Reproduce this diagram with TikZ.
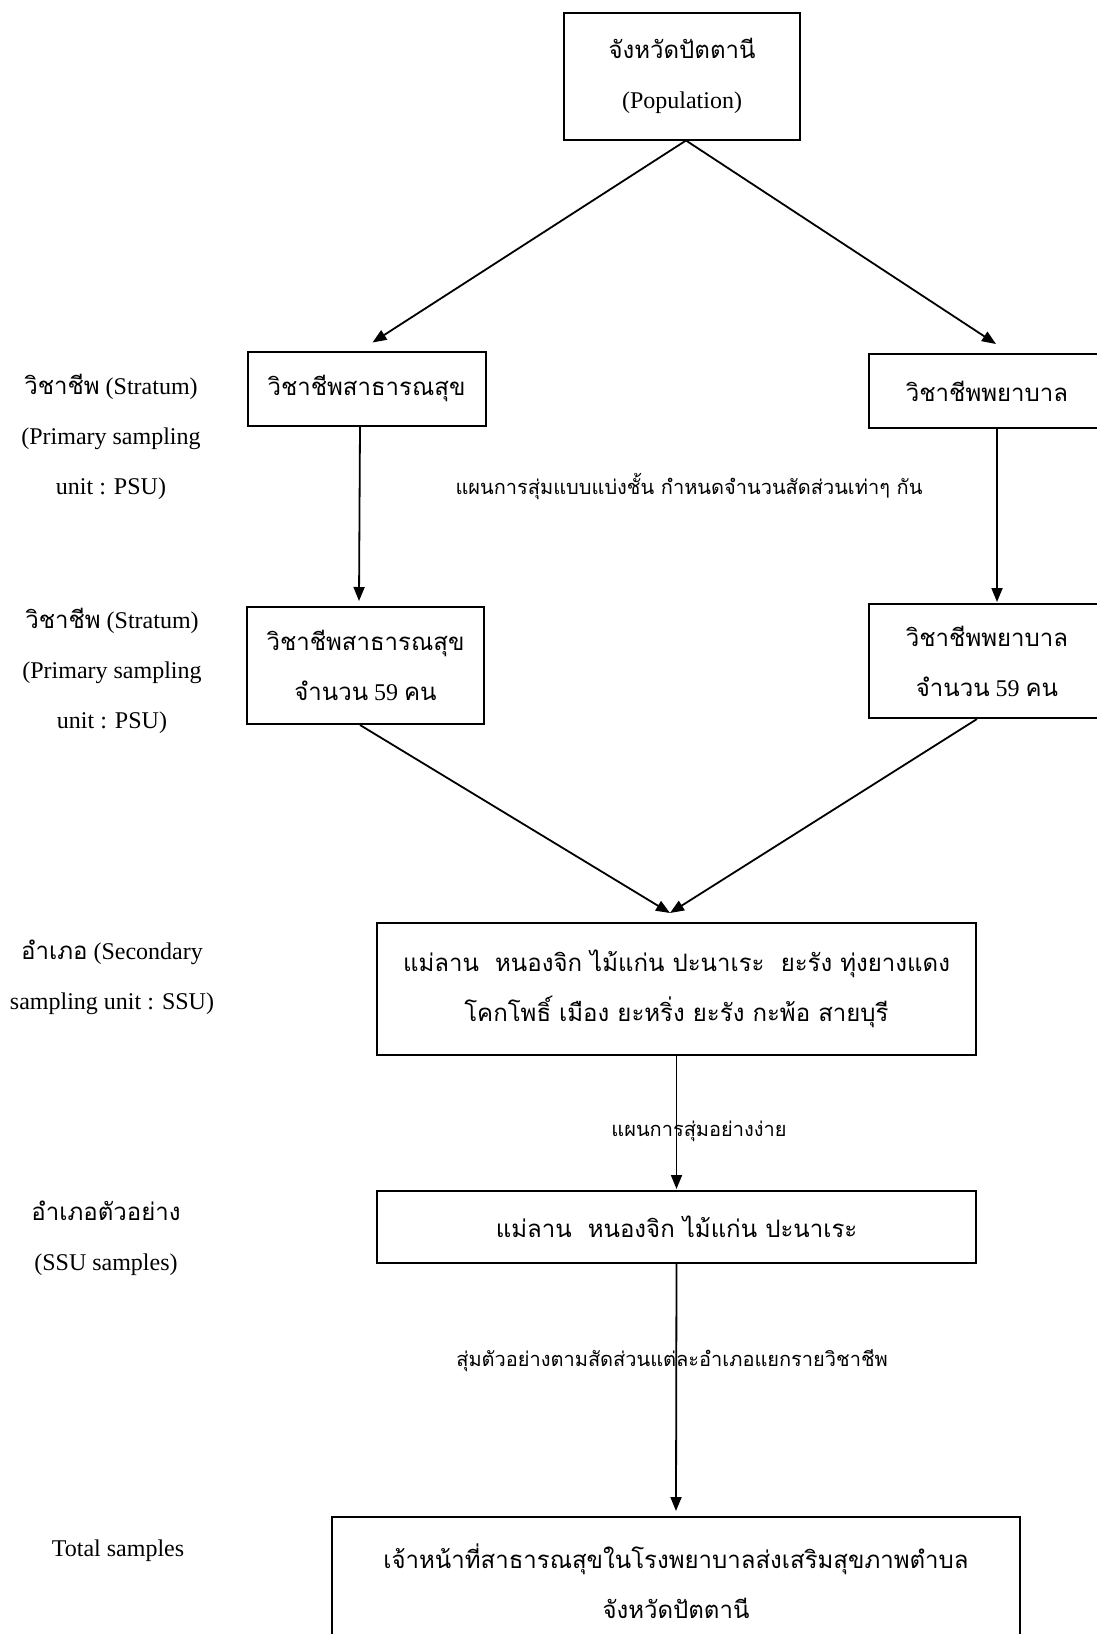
\documentclass[tikz,border=0pt]{standalone}
\usepackage{fontspec}
\setmainfont{Liberation Serif}
\newfontfamily\thai[Script=Thai]{Loma}
\usetikzlibrary{arrows.meta}
\tikzset{
  box/.style={draw, line width=2pt, inner sep=0pt, align=center,
    font=\fontsize{24}{50}\selectfont},
  lbl/.style={inner sep=0pt, align=center, font=\fontsize{24}{50}\selectfont},
  mid/.style={inner sep=0pt, align=center, font=\fontsize{20}{40}\selectfont},
  arr/.style={line width=1.8pt, -{Triangle[length=14pt,width=11pt]}}
}
\begin{document}
\begin{tikzpicture}[x=1pt,y=-1pt]
\useasboundingbox (0,0) rectangle (1096,1634);
\fill[white] (0,0) rectangle (1096,1634);

% boxes
\node[box, minimum width=236pt, minimum height=127pt] (pop) at (682,76)
  {{\thai จังหวัดปัตตานี}\\(Population)};
\node[box, minimum width=238pt, minimum height=74pt] (ph1) at (366.5,388.5)
  {\thai วิชาชีพสาธารณสุข};
\node[box, minimum width=236pt, minimum height=74pt] (nu1) at (987,391)
  {\thai วิชาชีพพยาบาล};
\node[box, minimum width=237pt, minimum height=117pt] (ph2) at (365.5,665.5)
  {{\thai วิชาชีพสาธารณสุข}\\{\thai จำนวน} 59 {\thai คน}};
\node[box, minimum width=236pt, minimum height=114pt] (nu2) at (987,661)
  {{\thai วิชาชีพพยาบาล}\\{\thai จำนวน} 59 {\thai คน}};
\node[box, minimum width=599pt, minimum height=132pt] (ssu) at (676.5,989)
  {{\thai แม่ลาน\ \ หนองจิก ไม้แก่น ปะนาเระ\ \ ยะรัง ทุ่งยางแดง}\\{\thai โคกโพธิ์ เมือง ยะหริ่ง ยะรัง กะพ้อ สายบุรี}};
\node[box, minimum width=599pt, minimum height=72pt] (sam) at (676.5,1227)
  {\thai แม่ลาน\ \ หนองจิก ไม้แก่น ปะนาเระ};
\node[box, minimum width=688pt, minimum height=128pt] (tot) at (676,1581)
  {{\thai เจ้าหน้าที่สาธารณสุขในโรงพยาบาลส่งเสริมสุขภาพตำบล}\\{\thai จังหวัดปัตตานี}};

% connectors
\draw[arr] ([xshift=4pt]pop.south) -- ([xshift=6pt,yshift=8pt]ph1.north);
\draw[arr] ([xshift=4pt]pop.south) -- ([xshift=9pt,yshift=9pt]nu1.north);
\draw[arr] ([xshift=-6.5pt]ph1.south) -- ([xshift=-6.5pt,yshift=5pt]ph2.north);
\draw[arr] ([xshift=10pt]nu1.south) -- ([xshift=10pt,yshift=1pt]nu2.north);
\draw[arr] ([xshift=-5.5pt]ph2.south) -- ([xshift=-6.5pt,yshift=9pt]ssu.north);
\draw[arr] ([xshift=-10pt]nu2.south) -- ([xshift=-6.5pt,yshift=9pt]ssu.north);
\draw[arr] (ssu.south) -- ([yshift=1pt]sam.north);
\draw[arr] (sam.south) -- ([yshift=5pt]tot.north);

% left labels
\node[lbl] (l1) at (111,437) {{\thai วิชาชีพ} (Stratum)\\(Primary sampling\\unit : PSU)};
\node[lbl] (l2) at (112,671) {{\thai วิชาชีพ} (Stratum)\\(Primary sampling\\unit : PSU)};
\node[lbl] (l3) at (112,977) {{\thai อำเภอ} (Secondary\\sampling unit : SSU)};
\node[lbl] (l4) at (106,1238) {{\thai อำเภอตัวอย่าง}\\(SSU samples)};
\node[lbl] (l5) at (118,1551) {Total samples};

% connector labels
\node[mid] (m1) at (689,487) {\thai แผนการสุ่มแบบแบ่งชั้น กำหนดจำนวนสัดส่วนเท่าๆ กัน};
\node[mid] (m2) at (699,1131) {\thai แผนการสุ่มอย่างง่าย};
\node[mid] (m3) at (672,1361) {\thai สุ่มตัวอย่างตามสัดส่วนแต่ละอำเภอแยกรายวิชาชีพ};
\end{tikzpicture}
\end{document}
